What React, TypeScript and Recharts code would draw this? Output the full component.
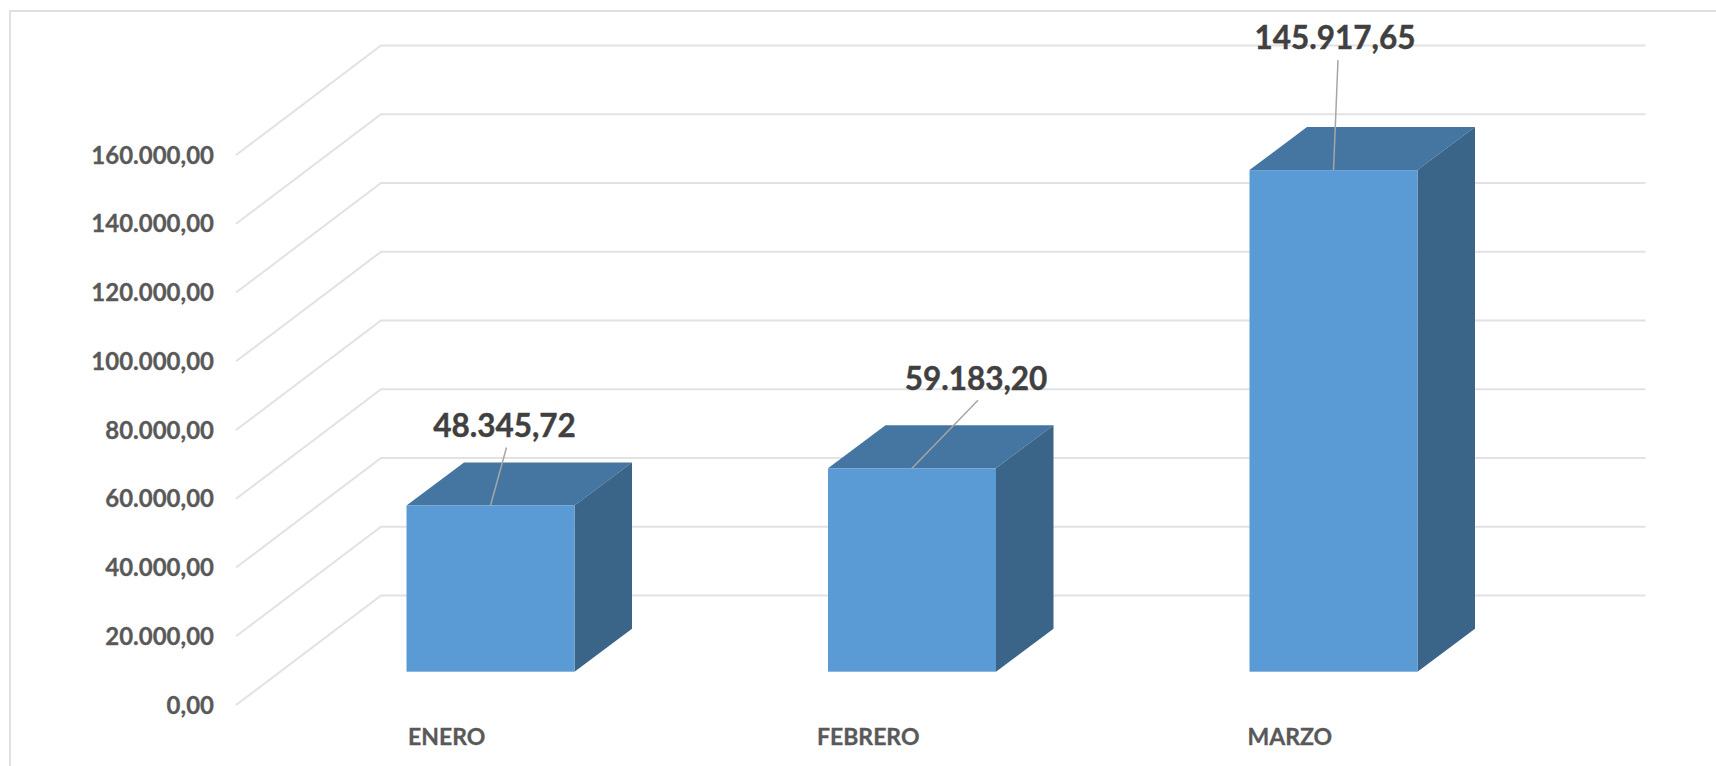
import { Bar, BarChart, CartesianGrid, LabelList, XAxis, YAxis } from "recharts";

const categories = ["ENERO", "FEBRERO", "MARZO"];
const values = [48345.72, 59183.2, 145917.65];
const valueLabels = ["48.345,72", "59.183,20", "145.917,65"];
const yTicks = [0, 20000, 40000, 60000, 80000, 100000, 120000, 140000, 160000];

const chartData = categories.map((mes, i) => ({ mes, total: values[i], label: valueLabels[i] }));

const FONT = "Lato, 'Open Sans', sans-serif";

// fake 3D: the plot area is the front plane, bars and back wall are pushed back from it
const BAR_SHIFT = { x: 43.5, y: 33.3 };
const BAR_DEPTH = { x: 57.5, y: 43 };
const WALL_SHIFT = { x: 145, y: 109.5 };

// where each callout ends, relative to the top-centre of its bar
const calloutOffsets = [
  { x: 16, y: -58, textX: 14, textY: -81 },
  { x: 66, y: -68, textX: 64, textY: -90 },
  { x: 4.5, y: -110, textX: 1.5, textY: -133 },
];

const fmtTick = (v: number) =>
  `${v.toLocaleString("de-DE")},00`;

function GridLine(props: any) {
  const { x1, x2, y1 } = props;
  const backY = y1 - WALL_SHIFT.y;
  return (
    <path
      d={`M${x1},${y1} L${x1 + WALL_SHIFT.x},${backY} L${x2 + WALL_SHIFT.x},${backY}`}
      fill="none"
      stroke="#E2E2E2"
      strokeWidth={2}
    />
  );
}

function Box3D(props: any) {
  const { x, y, width, height } = props;
  const left = x + BAR_SHIFT.x;
  const top = y - BAR_SHIFT.y;
  const right = left + width;
  const bottom = top + height;
  const d = BAR_DEPTH;
  return (
    <g>
      <path
        d={`M${left},${top} L${left + d.x},${top - d.y} L${right + d.x},${top - d.y} L${right},${top} Z`}
        fill="#4575A1"
      />
      <path
        d={`M${right},${top} L${right + d.x},${top - d.y} L${right + d.x},${bottom - d.y} L${right},${bottom} Z`}
        fill="#3A6488"
      />
      <rect x={left} y={top} width={width} height={height} fill="#5B9BD5" />
    </g>
  );
}

function Callout(props: any) {
  const { x, y, width, index, value } = props;
  const off = calloutOffsets[index];
  const cx = x + width / 2 + BAR_SHIFT.x;
  const top = y - BAR_SHIFT.y;
  return (
    <g>
      <line x1={cx} y1={top} x2={cx + off.x} y2={top + off.y} stroke="#A6A6A6" strokeWidth={1.5} />
      <text
        x={cx + off.textX}
        y={top + off.textY}
        textAnchor="middle"
        dominantBaseline="central"
        fontFamily={FONT}
        fontWeight={700}
        fontSize={31.5}
        fill="#404040"
        stroke="#404040"
        strokeWidth={0.4}
      >
        {value}
      </text>
    </g>
  );
}

export default function App() {
  return (
    <div style={{ position: "absolute", left: 0, top: 0, width: 1716, height: 766, background: "#fff", overflow: "hidden" }}>
      <div
        style={{
          position: "absolute",
          left: 9,
          top: 10,
          width: 1707,
          height: 756,
          boxSizing: "border-box",
          borderLeft: "2px solid #E0E0E0",
          borderTop: "2px solid #E0E0E0",
        }}
      />
      <div style={{ position: "absolute", left: 0, top: 0 }}>
        <BarChart
          width={1716}
          height={766}
          data={chartData}
          barSize={168}
          margin={{ top: 155, right: 215.5, bottom: 0, left: 0 }}
        >
          <CartesianGrid vertical={false} horizontal={GridLine as any} />
          <XAxis
            dataKey="mes"
            axisLine={false}
            tickLine={false}
            tickMargin={18}
            height={61}
            tick={{ fill: "#595959", stroke: "#595959", strokeWidth: 0.3, fontSize: 23, fontWeight: 700, fontFamily: FONT }}
          />
          <YAxis
            domain={[0, 160000]}
            ticks={yTicks}
            width={236}
            axisLine={false}
            tickLine={false}
            tickMargin={16}
            tickFormatter={fmtTick}
            tick={{ fill: "#595959", stroke: "#595959", strokeWidth: 0.3, fontSize: 24, fontWeight: 700, fontFamily: FONT }}
          />
          <Bar dataKey="total" shape={Box3D} isAnimationActive={false}>
            <LabelList dataKey="label" content={Callout as any} />
          </Bar>
        </BarChart>
      </div>
    </div>
  );
}
